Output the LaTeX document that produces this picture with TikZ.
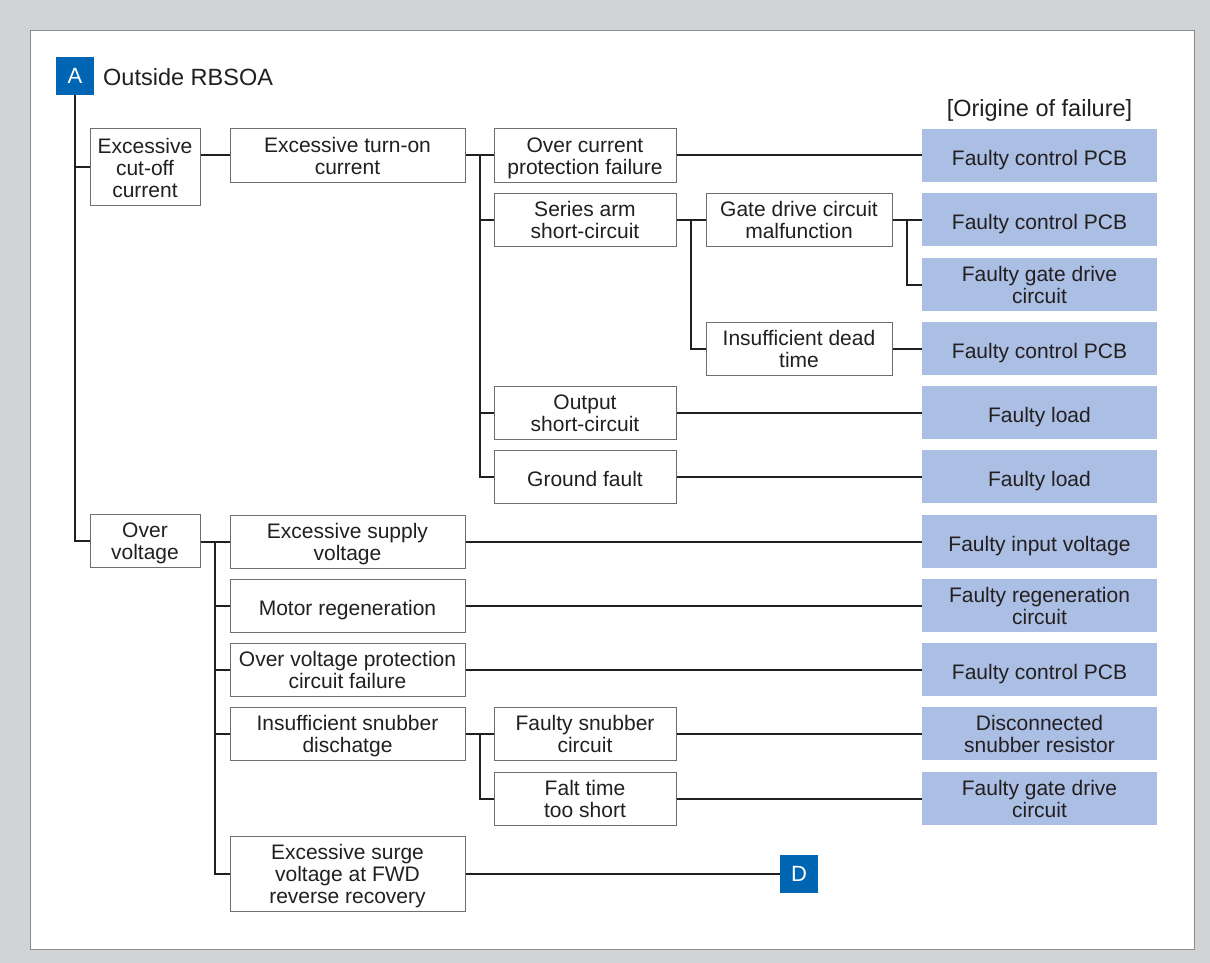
\documentclass[tikz,border=0pt]{standalone}
\usepackage{fontspec}
\setmainfont{Liberation Sans}
\definecolor{bg}{HTML}{D1D3D4}
\definecolor{frame}{HTML}{8A8C8E}
\definecolor{boxline}{HTML}{6D6E71}
\definecolor{txt}{HTML}{231F20}
\definecolor{origin}{HTML}{ABBEE3}
\definecolor{tagblue}{HTML}{0066B3}
% a strut spanning all text lines keeps the capitals centred in the box
\def\nlines{2}
\newcommand\boxstrut{\vrule width 0pt depth 5pt height
  \ifnum\nlines=1 25pt\else\dimexpr 22pt*\nlines-1pt\relax\fi\relax}
\tikzset{
  lines/.store in=\nlines,
  boxtext/.style={align=center, inner sep=0pt, text=txt,
    font=\fontsize{21}{22}\selectfont, minimum height=53, lines=2,
    execute at begin node=\boxstrut},
  box/.style={boxtext, draw=boxline, line width=1pt, fill=white},
  lone/.style={box, minimum width=110},
  ltwo/.style={box, minimum width=235},
  lthree/.style={box, minimum width=182},
  lfour/.style={box, minimum width=186},
  cause/.style={boxtext, fill=origin, minimum width=235},
  tag/.style={fill=tagblue, text=white, inner sep=0pt, minimum size=38,
    font=\fontsize{22}{24}\selectfont, execute at begin node={\rule{0pt}{21pt}},
    execute at end node={\rule[-5pt]{0pt}{5pt}}},
  link/.style={line width=2pt, txt},
}
\begin{document}
\begin{tikzpicture}[x=1pt, y=-1pt]
\useasboundingbox (0,0) rectangle (1210,963);
% background and frame
\fill[bg] (0,0) rectangle (1210,963);
\draw[frame, fill=white, line width=1pt] (30,31) rectangle (1194,949);

% heading
\node[tag] (A) at (75,76) {A};
\node[anchor=base west, inner sep=0pt, text=txt, font=\fontsize{23.5}{25}\selectfont] (title) at (103,85.5) {Outside RBSOA};
\node[anchor=base, inner sep=0pt, text=txt, font=\fontsize{23.5}{25}\selectfont] (origtitle) at (1039.5,117) {[Origine of failure]};

% first level
\node[lone, minimum height=76, lines=3] (cutoff) at (145,167) {Excessive\\cut-off\\current};
\node[lone] (ov) at (145,540.5) {Over\\voltage};

% cut-off current branch
\node[ltwo] (turnon) at (347.5,155.5) {Excessive turn-on\\current};
\node[lthree] (ocp) at (585,155.5) {Over current\\protection failure};
\node[lthree] (series) at (585,219.5) {Series arm\\short-circuit};
\node[lthree] (output) at (585,412.5) {Output\\short-circuit};
\node[lthree, lines=1] (ground) at (585,476.5) {Ground fault};
\node[lfour] (gate) at (799,219.5) {Gate drive circuit\\malfunction};
\node[lfour] (dead) at (799,348.5) {Insufficient dead\\time};

% over voltage branch
\node[ltwo] (supply) at (347.5,541.5) {Excessive supply\\voltage};
\node[ltwo, lines=1] (motor) at (347.5,605.5) {Motor regeneration};
\node[ltwo] (ovp) at (347.5,669.5) {Over voltage protection\\circuit failure};
\node[ltwo] (snub) at (347.5,733.5) {Insufficient snubber\\dischatge};
\node[ltwo, minimum height=75, lines=3] (surge) at (347.5,873.5) {Excessive surge\\voltage at FWD\\reverse recovery};
\node[lthree] (fsc) at (585,733.5) {Faulty snubber\\circuit};
\node[lthree] (falt) at (585,798.5) {Falt time\\too short};
\node[tag] (D) at (799,873.5) {D};

% origins of failure
\node[cause, lines=1] (f1) at (1039.5,155.5) {Faulty control PCB};
\node[cause, lines=1] (f2) at (1039.5,219.5) {Faulty control PCB};
\node[cause] (f3) at (1039.5,284.5) {Faulty gate drive\\circuit};
\node[cause, lines=1] (f4) at (1039.5,348.5) {Faulty control PCB};
\node[cause, lines=1] (f5) at (1039.5,412.5) {Faulty load};
\node[cause, lines=1] (f6) at (1039.5,476.5) {Faulty load};
\node[cause, lines=1] (f7) at (1039.5,541.5) {Faulty input voltage};
\node[cause] (f8) at (1039.5,605.5) {Faulty regeneration\\circuit};
\node[cause, lines=1] (f9) at (1039.5,669.5) {Faulty control PCB};
\node[cause] (f10) at (1039.5,733.5) {Disconnected\\snubber resistor};
\node[cause] (f11) at (1039.5,798.5) {Faulty gate drive\\circuit};

% bus junctions
\coordinate (busA) at (480,155.5);
\coordinate (busB) at (691,219.5);
\coordinate (busC) at (907,219.5);
\coordinate (busD) at (215,541.5);
\coordinate (busE) at (480,733.5);

% connectors
\draw[link] (A.south) |- (cutoff.west);
\draw[link] (A.south) |- (ov.west);
\draw[link] (turnon.west -| cutoff.east) -- (turnon.west);
\draw[link] (turnon.east) -- (ocp.west);
\draw[link] (busA) |- (series.west);
\draw[link] (busA) |- (output.west);
\draw[link] (busA) |- (ground.west);
\draw[link] (ocp.east) -- (f1.west);
\draw[link] (series.east) -- (gate.west);
\draw[link] (busB) |- (dead.west);
\draw[link] (gate.east) -- (f2.west);
\draw[link] (busC) |- (f3.west);
\draw[link] (dead.east) -- (f4.west);
\draw[link] (output.east) -- (f5.west);
\draw[link] (ground.east) -- (f6.west);

\draw[link] (supply.west -| ov.east) -- (supply.west);
\draw[link] (busD) |- (motor.west);
\draw[link] (busD) |- (ovp.west);
\draw[link] (busD) |- (snub.west);
\draw[link] (busD) |- (surge.west);
\draw[link] (supply.east) -- (f7.west);
\draw[link] (motor.east) -- (f8.west);
\draw[link] (ovp.east) -- (f9.west);
\draw[link] (snub.east) -- (fsc.west);
\draw[link] (busE) |- (falt.west);
\draw[link] (fsc.east) -- (f10.west);
\draw[link] (falt.east) -- (f11.west);
\draw[link] (surge.east) -- (D.west);
\end{tikzpicture}
\end{document}
